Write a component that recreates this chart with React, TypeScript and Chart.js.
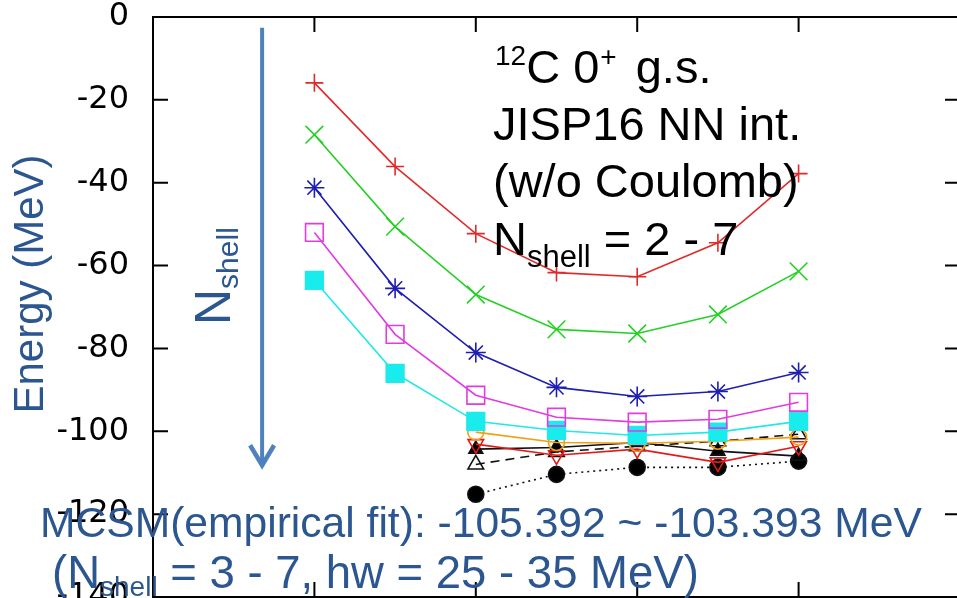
import React, { useEffect, useRef } from 'react';
import { Chart, registerables } from 'chart.js';

Chart.register(...registerables);

// hw (MeV) grid
const hwAll = [15, 17.5, 20, 22.5, 25, 27.5, 30];
const hwHigh = [20, 22.5, 25, 27.5, 30];

// Energies (MeV), N_shell = 2 ... 7
const eN2 = [-15.9, -36.1, -52.3, -61.7, -62.7, -54.5, -37.8];
const eN3 = [-28.4, -50.6, -67.0, -75.4, -76.4, -71.8, -61.4];
const eN4 = [-41.2, -65.5, -81.0, -89.4, -91.6, -90.4, -85.8];
const eN5 = [-52.0, -76.6, -91.3, -96.6, -97.8, -97.1, -93.0];
const eN6 = [-63.6, -86.0, -97.6, -99.8, -101.0, -100.2, -97.6];
const eN7 = [-100.2, -102.7, -102.9, -102.4, -101.4];
// lower curves (hw = 20 ... 30)
const eRedTri = [-103.1, -105.8, -104.3, -107.5, -103.6];
const eBlackTri = [-104.3, -103.9, -102.7, -104.8, -106.0];
const eOpenTri = [-108.0, -105.0, -103.6, -102.4, -100.7];
const eDots = [-115.2, -110.4, -108.7, -108.7, -107.2];

const xTickValues = [15, 20, 25, 30];
const yTickValues = [0, -20, -40, -60, -80, -100, -120, -140];

const SANS = '"Liberation Sans", Arial, Helvetica, sans-serif';
const BLUE_TEXT = '#2b5690';
const ARROW_BLUE = '#4f81bd';

const pts = (xs: number[], ys: number[]) => xs.map((x, i) => ({ x, y: ys[i] }));

type Run = { t: string; size: number; dy?: number; dx?: number };
function drawRuns(ctx: CanvasRenderingContext2D, runs: Run[], x: number, y: number, color: string) {
  let cx = x;
  ctx.fillStyle = color;
  ctx.textAlign = 'left';
  ctx.textBaseline = 'alphabetic';
  for (const r of runs) {
    cx += r.dx || 0;
    ctx.font = `${r.size}px ${SANS}`;
    ctx.fillText(r.t, cx, y + (r.dy || 0));
    cx += ctx.measureText(r.t).width;
  }
}

const frameTicks = {
  id: 'frameTicks',
  afterDatasetsDraw(chart: any) {
    const { ctx, chartArea: a, scales } = chart;
    const xs = scales.x;
    const ys = scales.y;
    ctx.save();
    ctx.strokeStyle = '#000';
    ctx.lineWidth = 2;
    ctx.beginPath();
    ctx.moveTo(a.left, a.top);
    ctx.lineTo(a.right, a.top);
    ctx.moveTo(a.right, a.top);
    ctx.lineTo(a.right, a.bottom);
    for (const v of yTickValues) {
      const py = ys.getPixelForValue(v);
      ctx.moveTo(a.left, py);
      ctx.lineTo(a.left + 15, py);
      ctx.moveTo(a.right - 15, py);
      ctx.lineTo(a.right, py);
    }
    for (const v of xTickValues) {
      const px = xs.getPixelForValue(v);
      ctx.moveTo(px, a.top);
      ctx.lineTo(px, a.top + 15);
      ctx.moveTo(px, a.bottom - 15);
      ctx.lineTo(px, a.bottom);
    }
    ctx.stroke();
    ctx.restore();
  },
};

const annotations = {
  id: 'annotations',
  afterDraw(chart: any) {
    const { ctx, scales } = chart;
    const xs = scales.x;
    const ys = scales.y;
    ctx.save();

    // N_shell arrow
    const ax = xs.getPixelForValue(13.38);
    const ay0 = ys.getPixelForValue(-2.6);
    const ay1 = ys.getPixelForValue(-108.2);
    ctx.strokeStyle = ARROW_BLUE;
    ctx.lineWidth = 4;
    ctx.lineCap = 'butt';
    ctx.beginPath();
    ctx.moveTo(ax, ay0);
    ctx.lineTo(ax, ay1 - 2);
    ctx.stroke();
    ctx.lineWidth = 4.5;
    ctx.lineJoin = 'miter';
    ctx.beginPath();
    ctx.moveTo(ax - 12, ay1 - 20);
    ctx.lineTo(ax, ay1);
    ctx.lineTo(ax + 12, ay1 - 20);
    ctx.stroke();

    // rotated N_shell label
    ctx.save();
    ctx.translate(230, 325);
    ctx.rotate(-Math.PI / 2);
    drawRuns(ctx, [{ t: 'N', size: 50 }, { t: 'shell', size: 30, dy: 8 }], 0, 0, BLUE_TEXT);
    ctx.restore();

    // y-axis title
    ctx.save();
    ctx.translate(43, 284);
    ctx.rotate(-Math.PI / 2);
    ctx.font = `42px ${SANS}`;
    ctx.fillStyle = BLUE_TEXT;
    ctx.textAlign = 'center';
    ctx.textBaseline = 'alphabetic';
    ctx.fillText('Energy (MeV)', 0, 0);
    ctx.restore();

    // black info block
    drawRuns(ctx, [
      { t: '12', size: 28, dy: -18 },
      { t: 'C 0', size: 47 },
      { t: '+', size: 28, dy: -17, dx: 1 },
      { t: ' g.s.', size: 47, dx: 6 },
    ], 495, 83, '#000');
    drawRuns(ctx, [{ t: 'JISP16 NN int.', size: 47 }], 493, 140, '#000');
    drawRuns(ctx, [{ t: '(w/o Coulomb)', size: 47 }], 493, 197, '#000');
    drawRuns(ctx, [
      { t: 'N', size: 47 },
      { t: 'shell', size: 31, dy: 12 },
      { t: ' = 2 - 7', size: 47 },
    ], 493, 255, '#000');

    // MCSM note
    drawRuns(ctx, [{ t: 'MCSM(empirical fit): -105.392 ~ -103.393 MeV', size: 42.6 }], 40, 537, BLUE_TEXT);
    drawRuns(ctx, [
      { t: '(N', size: 45.5 },
      { t: 'shell', size: 28, dy: 8 },
      { t: ' = 3 - 7, hw = 25 - 35 MeV)', size: 45.5 },
    ], 52, 588, BLUE_TEXT);

    ctx.restore();
  },
};

function ds(label: string, xs: number[], ys: number[], color: string, style: string, radius: number, fill: string, extra: any = {}) {
  return {
    label,
    data: pts(xs, ys),
    borderColor: color,
    backgroundColor: fill,
    pointStyle: style,
    pointRadius: radius,
    pointBorderColor: color,
    pointBackgroundColor: fill,
    pointBorderWidth: 1.6,
    borderWidth: 1.6,
    showLine: true,
    tension: 0,
    fill: false,
    ...extra,
  };
}

export default function App() {
  const ref = useRef<HTMLCanvasElement>(null);
  useEffect(() => {
    const canvas = ref.current!;
    const chart = new Chart(canvas, {
      type: 'line',
      data: {
        datasets: [
          ds('N=2', hwAll, eN2, '#e02a2a', 'cross', 9, 'rgba(0,0,0,0)'),
          ds('N=3', hwAll, eN3, '#25d025', 'crossRot', 12.5, 'rgba(0,0,0,0)'),
          ds('N=4', hwAll, eN4, '#1e1eb0', 'star', 10, 'rgba(0,0,0,0)'),
          ds('N=5', hwAll, eN5, '#e03ce0', 'rect', 12.5, 'rgba(0,0,0,0)'),
          ds('N=6', hwAll, eN6, '#22e8e8', 'rect', 12.5, '#18ecec'),
          ds('N=7', hwHigh, eN7, '#f0a010', 'circle', 8, 'rgba(0,0,0,0)'),
          ds('red tri', hwHigh, eRedTri, '#e41a1a', 'triangle', 9, 'rgba(0,0,0,0)', { pointRotation: 180 }),
          ds('black tri', hwHigh, eBlackTri, '#111', 'triangle', 8, '#000'),
          ds('open tri', hwHigh, eOpenTri, '#111', 'triangle', 9, 'rgba(0,0,0,0)', { borderDash: [9, 6] }),
          ds('dots', hwHigh, eDots, '#111', 'circle', 8, '#000', { borderDash: [2, 4] }),
        ] as any,
      },
      options: {
        animation: false,
        responsive: false,
        devicePixelRatio: 1,
        layout: { padding: { left: 0, top: 17, right: 40, bottom: 0 } },
        plugins: { legend: { display: false }, tooltip: { enabled: false } },
        scales: {
          x: {
            type: 'linear',
            min: 10,
            max: 35,
            ticks: { display: false, stepSize: 5 },
            grid: { display: true, drawOnChartArea: false, drawTicks: false },
            border: { display: true, color: '#000', width: 2 },
            afterFit: (s: any) => {
              s.height = 43;
              s.paddingLeft = 0;
              s.paddingRight = 0;
            },
          },
          y: {
            type: 'linear',
            min: -140,
            max: 0,
            ticks: {
              stepSize: 20,
              padding: 24,
              color: '#000',
              font: { family: '"DejaVu Sans", sans-serif', size: 32 },
              autoSkip: false,
            },
            grid: { display: true, drawOnChartArea: false, drawTicks: false },
            border: { display: true, color: '#000', width: 2 },
            afterFit: (s: any) => {
              s.width = 153;
              s.paddingTop = 0;
              s.paddingBottom = 0;
            },
          },
        },
      },
      plugins: [frameTicks, annotations],
    } as any);
    return () => chart.destroy();
  }, []);
  return (
    <div style={{ position: 'fixed', left: 0, top: 0, width: 957, height: 598, overflow: 'hidden', background: '#fff' }}>
      <canvas ref={ref} width={1000} height={640} style={{ display: 'block', width: 1000, height: 640 }} />
    </div>
  );
}
